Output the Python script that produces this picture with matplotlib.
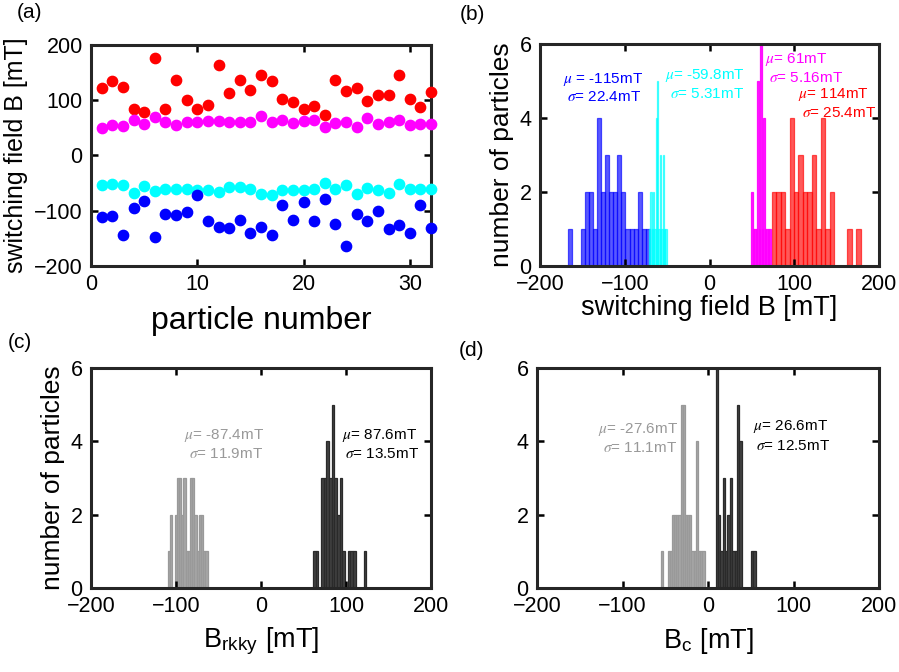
import matplotlib
matplotlib.use("Agg")
import matplotlib.pyplot as plt
import numpy as np

plt.rcParams.update(
    {
        "font.family": ["Liberation Sans", "DejaVu Sans"],
        "mathtext.fontset": "stix",
        "font.size": 15,
        "axes.linewidth": 2.2,
        "axes.edgecolor": "#262626",
        "xtick.direction": "in",
        "ytick.direction": "in",
        "xtick.top": True,
        "ytick.right": True,
        "xtick.major.size": 5,
        "ytick.major.size": 5,
        "xtick.major.width": 1.8,
        "ytick.major.width": 1.8,
    }
)

# --- (a) switching field per particle ---
particle = np.arange(1, 33)
red_pts = [123, 135, 124, 85, 78, 177, 84, 136, 100, 84, 91, 163, 113, 136, 119, 145,
           135, 102, 97, 85, 89, 74, 137, 116, 123, 99, 109, 109, 146, 102, 87, 115]
magenta_pts = [50, 55, 54, 64, 57, 69, 61, 55, 60, 61, 63, 63, 61, 61, 61, 72,
               60, 65, 58, 63, 64, 52, 58, 60, 51, 68, 57, 60, 64, 55, 57, 57]
cyan_pts = [-53, -52, -53, -67, -56, -65, -61, -61, -61, -63, -63, -66, -57, -57, -61, -69,
            -71, -63, -62, -63, -60, -50, -61, -54, -69, -59, -63, -68, -52, -60, -60, -60]
blue_pts = [-112, -110, -144, -95, -83, -148, -106, -108, -102, -72, -119, -129, -131, -116,
            -141, -129, -144, -89, -116, -84, -119, -79, -124, -164, -105, -119, -100, -133,
            -125, -140, -90, -131]

# --- (b) histograms: (start, bin width, counts) ---
blue_start, blue_w = -166.6, 4.82
blue_counts = [1, 0, 0, 1, 2, 2, 1, 4, 2, 3, 2, 2, 3, 2, 1, 1, 1, 2, 1, 1]
cyan_start, cyan_w = -71.4, 1.6
cyan_counts = [1, 2, 1, 2, 1, 4, 5, 1, 3, 1, 3, 1, 1]
mag_start, mag_w = 49.0, 1.8
mag_counts = [2, 1, 1, 1, 5, 1, 6, 1, 4, 1, 1, 1, 1]
red_start, red_w = 73.4, 5.25
red_counts = [2, 2, 2, 1, 4, 2, 3, 2, 2, 3, 1, 4, 1, 2, 0, 0, 0, 1, 0, 1]

# --- (c) B_rkky ---
rk_neg_start, rk_neg_w = -109.5, 2.6
rk_neg_counts = [1, 2, 0, 2, 3, 3, 2, 3, 1, 1, 3, 3, 2, 1, 2, 2, 1, 1]
rk_pos_start, rk_pos_w = 61.0, 3.15
rk_pos_counts = [1, 1, 0, 3, 3, 4, 3, 5, 3, 2, 3, 1, 0, 1, 1, 1, 0, 0, 0, 1]

# --- (d) B_c ---
bc_neg_start, bc_neg_w = -55.0, 2.55
bc_neg_counts = [1, 0, 0, 1, 1, 2, 2, 2, 2, 5, 5, 2, 2, 2, 1, 1, 4, 1, 1, 1]
bc_pos_start, bc_pos_w = 9.0, 2.75
bc_pos_counts = [6, 2, 1, 3, 1, 2, 3, 1, 1, 5, 4, 0, 0, 0, 0, 1, 1]

RED, MAG, CYAN, BLUE = "#ff0000", "#ff00ff", "#00ffff", "#0000ff"
LIGHT, DARK = "#a6a6a6", "#404040"
LABEL_FS = 19
XLABEL_FS = 19.5


def draw_hist(ax, start, width, counts, color, alpha=0.65, edge=None):
    edges = start + width * np.arange(len(counts))
    ax.bar(edges, counts, width=width, align="edge", color=color, alpha=alpha,
           edgecolor=edge or color, linewidth=0.9)


def style_hist(ax):
    ax.set_xlim(-200, 200)
    ax.set_ylim(0, 6)
    ax.set_xticks([-200, -100, 0, 100, 200])
    ax.set_yticks([0, 2, 4, 6])


W, H = 899, 672
fig = plt.figure(figsize=(W / 100, H / 100), dpi=100)
ax_a = fig.add_axes([91 / W, 1 - 266 / H, 340 / W, 221 / H])
ax_b = fig.add_axes([540 / W, 1 - 266 / H, 339 / W, 222 / H])
ax_c = fig.add_axes([91 / W, 1 - 588 / H, 340 / W, 220 / H])
ax_d = fig.add_axes([537 / W, 1 - 588 / H, 342 / W, 220 / H])

# (a)
ms = 55
ax_a.scatter(particle, red_pts, s=ms, color=RED, zorder=3, clip_on=False)
ax_a.scatter(particle, magenta_pts, s=ms, color=MAG, zorder=3, clip_on=False)
ax_a.scatter(particle, cyan_pts, s=ms, color=CYAN, zorder=3, clip_on=False)
ax_a.scatter(particle, blue_pts, s=ms, color=BLUE, zorder=3, clip_on=False)
ax_a.set_xlim(0, 32)
ax_a.set_ylim(-200, 200)
ax_a.set_xticks([0, 10, 20, 30])
ax_a.set_yticks([-200, -100, 0, 100, 200])
ax_a.set_xlabel("particle number", fontsize=23, labelpad=8)
ax_a.set_ylabel("switching field B [mT]", fontsize=18)

# (b)
draw_hist(ax_b, blue_start, blue_w, blue_counts, BLUE)
draw_hist(ax_b, cyan_start, cyan_w, cyan_counts, CYAN)
draw_hist(ax_b, red_start, red_w, red_counts, RED)
draw_hist(ax_b, mag_start, mag_w, mag_counts, MAG, alpha=0.9)
style_hist(ax_b)
ax_b.set_xlabel("switching field B [mT]", fontsize=XLABEL_FS, labelpad=0)
ax_b.set_ylabel("number of particles", fontsize=LABEL_FS)
tfs = 11
ax_b.text(-125, 5.03, r"$\mu$ = -115mT", color=BLUE, fontsize=tfs, ha="center", va="center")
ax_b.text(-124, 4.56, r"$\sigma$= 22.4mT", color=BLUE, fontsize=tfs, ha="center", va="center")
ax_b.text(-5, 5.16, r"$\mu$= -59.8mT", color=CYAN, fontsize=tfs, ha="center", va="center")
ax_b.text(-3, 4.65, r"$\sigma$= 5.31mT", color=CYAN, fontsize=tfs, ha="center", va="center")
ax_b.text(102, 5.57, r"$\mu$= 61mT", color=MAG, fontsize=tfs, ha="center", va="center")
ax_b.text(114, 5.08, r"$\sigma$= 5.16mT", color=MAG, fontsize=tfs, ha="center", va="center")
ax_b.text(146, 4.63, r"$\mu$= 114mT", color=RED, fontsize=tfs, ha="center", va="center")
ax_b.text(153, 4.13, r"$\sigma$= 25.4mT", color=RED, fontsize=tfs, ha="center", va="center")

# (c)
draw_hist(ax_c, rk_neg_start, rk_neg_w, rk_neg_counts, LIGHT, alpha=1, edge="#999999")
draw_hist(ax_c, rk_pos_start, rk_pos_w, rk_pos_counts, DARK, alpha=1, edge="#2a2a2a")
style_hist(ax_c)
ax_c.set_xlabel(r"B$_{\mathregular{rkky}}$ [mT]", fontsize=XLABEL_FS, labelpad=6)
ax_c.set_ylabel("number of particles", fontsize=LABEL_FS)
ax_c.text(-44, 4.15, r"$\mu$= -87.4mT", color="#999999", fontsize=tfs, ha="center", va="center")
ax_c.text(-41, 3.66, r"$\sigma$= 11.9mT", color="#999999", fontsize=tfs, ha="center", va="center")
ax_c.text(140, 4.15, r"$\mu$= 87.6mT", color="black", fontsize=tfs, ha="center", va="center")
ax_c.text(143, 3.66, r"$\sigma$= 13.5mT", color="black", fontsize=tfs, ha="center", va="center")

# (d)
draw_hist(ax_d, bc_neg_start, bc_neg_w, bc_neg_counts, LIGHT, alpha=1, edge="#999999")
draw_hist(ax_d, bc_pos_start, bc_pos_w, bc_pos_counts, DARK, alpha=1, edge="#2a2a2a")
style_hist(ax_d)
ax_d.set_xlabel(r"B$_{\mathregular{c}}$ [mT]", fontsize=XLABEL_FS, labelpad=6)
ax_d.text(-82, 4.33, r"$\mu$= -27.6mT", color="#999999", fontsize=tfs, ha="center", va="center")
ax_d.text(-80, 3.83, r"$\sigma$= 11.1mT", color="#999999", fontsize=tfs, ha="center", va="center")
ax_d.text(96, 4.4, r"$\mu$= 26.6mT", color="black", fontsize=tfs, ha="center", va="center")
ax_d.text(100, 3.88, r"$\sigma$= 12.5mT", color="black", fontsize=tfs, ha="center", va="center")

for ax in (ax_a, ax_b, ax_c, ax_d):
    ax.tick_params(labelsize=15.5, pad=6)

fig.text(29 / W, 1 - 12 / H, "(a)", fontsize=15, ha="center", va="center")
fig.text(472 / W, 1 - 15 / H, "(b)", fontsize=15, ha="center", va="center")
fig.text(20 / W, 1 - 343 / H, "(c)", fontsize=15, ha="center", va="center")
fig.text(471 / W, 1 - 350 / H, "(d)", fontsize=15, ha="center", va="center")

fig.savefig("out.png", dpi=100)
